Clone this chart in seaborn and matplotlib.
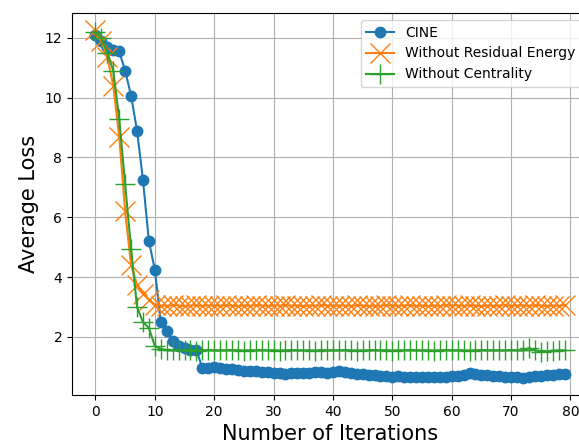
import matplotlib
matplotlib.use("Agg")
import matplotlib.pyplot as plt
import seaborn as sns
import numpy as np

iterations = np.arange(80)

cine = [12.1, 11.9, 11.7, 11.6, 11.55, 10.9, 10.07, 8.9, 7.25, 5.2,
        4.25, 2.5, 2.2, 1.87, 1.7, 1.62, 1.58, 1.55,
        0.97, 0.95, 0.98, 0.95, 0.93, 0.92, 0.9, 0.87, 0.85, 0.86,
        0.83, 0.82, 0.8, 0.78, 0.76, 0.78, 0.8, 0.78, 0.8, 0.82,
        0.83, 0.8, 0.82, 0.86, 0.83, 0.78, 0.76, 0.75, 0.74, 0.72,
        0.7, 0.68, 0.66, 0.68, 0.67, 0.66, 0.65, 0.66, 0.67, 0.66,
        0.66, 0.67, 0.68, 0.7, 0.74, 0.8, 0.76, 0.73, 0.72, 0.7,
        0.68, 0.66, 0.66, 0.65, 0.64, 0.66, 0.68, 0.7, 0.72, 0.74,
        0.76, 0.75]

no_residual = [12.25, 11.9, 11.35, 10.4, 8.7, 6.2, 4.4, 3.75, 3.45, 3.25, 3.08,
               3.05, 3.04, 3.06, 3.05, 3.03, 3.05, 3.06, 3.04, 3.05, 3.05,
               3.04, 3.06, 3.05, 3.03, 3.05, 3.04, 3.06, 3.05, 3.04, 3.05,
               3.05, 3.06, 3.04, 3.05, 3.03, 3.05, 3.04, 3.06, 3.05, 3.04,
               3.05, 3.05, 3.04, 3.06, 3.05, 3.03, 3.05, 3.04, 3.06, 3.05,
               3.04, 3.05, 3.06, 3.04, 3.05, 3.03, 3.05, 3.04, 3.06, 3.05,
               3.05, 3.04, 3.06, 3.05, 3.03, 3.05, 3.04, 3.05, 3.06, 3.04,
               3.05, 3.05, 3.04, 3.06, 3.05, 3.03, 3.05, 3.04, 3.07]

no_centrality = [12.2, 12.0, 11.5, 10.9, 9.3, 7.1, 4.95, 3.0, 2.5, 2.3, 1.7, 1.6,
                 1.56, 1.55, 1.55, 1.56, 1.55, 1.54, 1.55, 1.56, 1.55, 1.55,
                 1.55, 1.56, 1.55, 1.54, 1.55, 1.55, 1.56, 1.55, 1.55, 1.54,
                 1.55, 1.56, 1.55, 1.55, 1.55, 1.54, 1.56, 1.55, 1.55, 1.55,
                 1.56, 1.55, 1.54, 1.55, 1.55, 1.56, 1.55, 1.55, 1.54, 1.55,
                 1.55, 1.56, 1.55, 1.55, 1.55, 1.54, 1.55, 1.56, 1.55, 1.55,
                 1.55, 1.54, 1.55, 1.56, 1.55, 1.55, 1.55, 1.55, 1.56, 1.55,
                 1.55, 1.63, 1.56, 1.51, 1.52, 1.54, 1.55, 1.55]

fig = plt.figure(figsize=(5.79, 4.48), dpi=100)
ax = fig.add_axes([72/579, 53/448, 516/579, 382/448])

# blue first, the two ablations drawn on top
sns.lineplot(x=iterations, y=cine, ax=ax, color='C0', marker='o', markersize=7.5,
             markeredgecolor='C0', markeredgewidth=1, label='CINE')
sns.lineplot(x=iterations, y=no_residual, ax=ax, color='C1', marker='x', markersize=14,
             markeredgecolor='C1', markeredgewidth=1, label='Without Residual Energy')
sns.lineplot(x=iterations, y=no_centrality, ax=ax, color='C2', marker='+', markersize=15,
             markeredgecolor='C2', markeredgewidth=1, label='Without Centrality')

ax.grid(True)
ax.set_xticks(range(0, 81, 10))
ax.set_xlabel('Number of Iterations', fontsize=15)
ax.set_ylabel('Average Loss', fontsize=15)
ax.legend(loc='upper right')

fig.savefig('out.png', dpi=100)
